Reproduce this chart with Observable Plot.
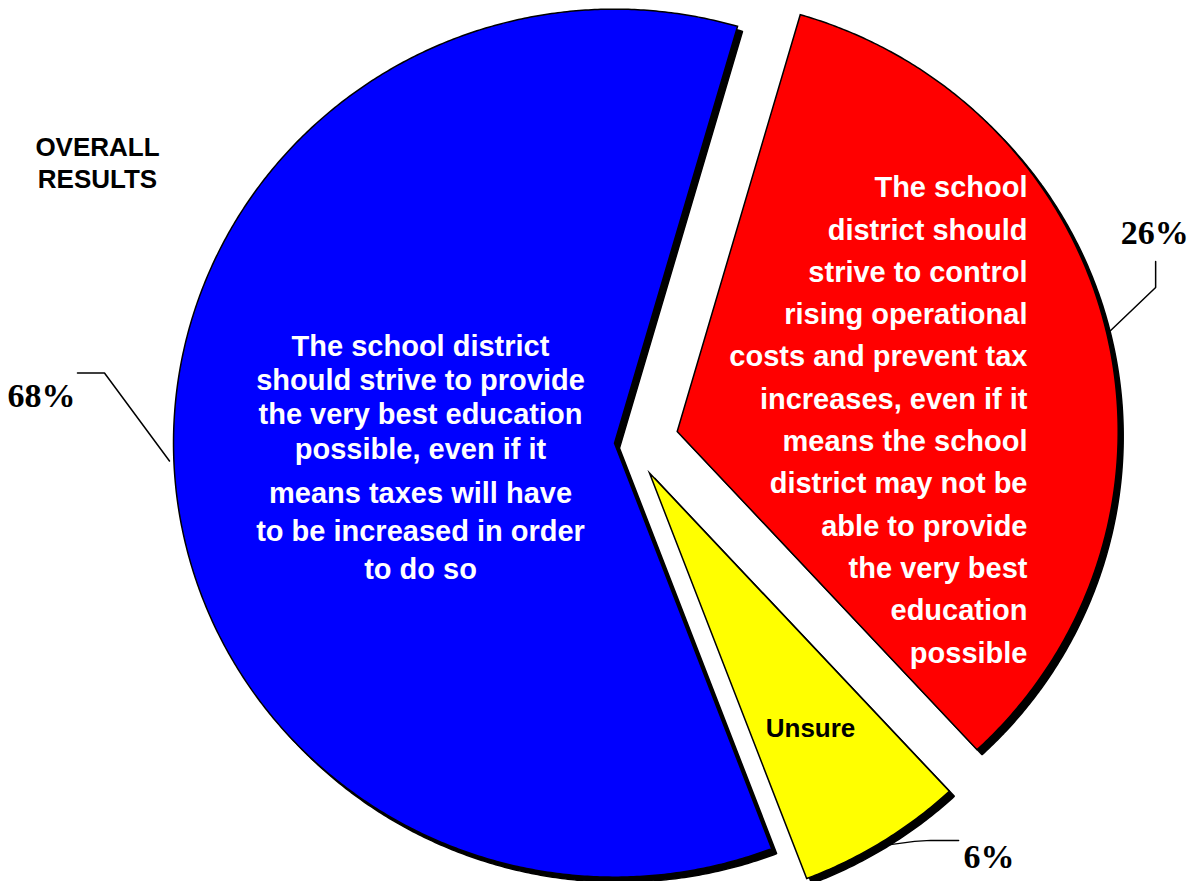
<!DOCTYPE html>
<html><head><meta charset="utf-8">
<script src="https://cdn.jsdelivr.net/npm/d3@7"></script>
<script src="https://cdn.jsdelivr.net/npm/@observablehq/plot@0.6"></script>
<style>html,body{margin:0;padding:0;background:#fff;} #chart svg{display:block}</style>
</head><body><div id="chart"></div>
<script>
// ---------------- data ----------------
const categories = ["Control costs / prevent tax increases", "Unsure", "Provide the very best education"];
const reportedPercent = [26, 6, 68];          // printed percentage labels
const drawnShare = [33.6, 6.1, 60.3];         // slice sizes as drawn in the picture
const sliceLabels = [
  "The school\ndistrict should\nstrive to control\nrising operational\ncosts and prevent tax\nincreases, even if it\nmeans the school\ndistrict may not be\nable to provide\nthe very best\neducation\npossible",
  "Unsure",
  "The school district\nshould strive to provide\nthe very best education\npossible, even if it\nmeans taxes will have\nto be increased in order\nto do so"
];
const titleLines = ["OVERALL", "RESULTS"];

// ---------------- layout / style ----------------
const W = 1191, H = 881;
const CX = 630, CY = 442, RX = 441, RY = 434;   // pie centre and radii in pixels
const START_DEG = 16.2;
const sliceFill = ["#ff0000", "#ffff00", "#0000ff"];
const explodePx = [48, 36, 16];
const shadowOffset = 5;
const sans = "'Liberation Sans', Arial, Helvetica, sans-serif";
const serif = "'Liberation Serif', 'Times New Roman', Times, serif";
const ux = px => (px - CX) / RX;
const uy = py => (CY - py) / RY;

// leader line bends, pixel offsets from the attachment point on the arc
const leaderPx = [
  [[0, 0], [45, -43], [45, -69]],
  [[0, 0], [30, -4], [46, -5], [74, -5]],
  [[0, 0], [-65, -88], [-92, -88]]
];
// percent label offset (px) from leader end + anchor
const pctLabelPx = [[-1, -17, "middle"], [5, 28, "start"], [-2, 34, "end"]];

// ---------------- geometry via d3.pie ----------------
const rad = Math.PI / 180;
const slices = categories.map((c, i) => ({category: c, share: drawnShare[i], pct: reportedPercent[i], label: sliceLabels[i]}));
const arcs = d3.pie().sort(null).value(d => d.share)
  .startAngle(START_DEG * rad).endAngle(START_DEG * rad + 2 * Math.PI)(slices);

const wedges = [];
const leaders = [];
const pctTexts = [];
arcs.forEach((a, i) => {
  const mid = (a.startAngle + a.endAngle) / 2;
  const ox = explodePx[i] * Math.sin(mid) / RX, oy = explodePx[i] * Math.cos(mid) / RY;
  const pts = [{x: ox, y: oy}];
  const n = Math.ceil((a.endAngle - a.startAngle) / (0.4 * rad));
  for (let k = 0; k <= n; k++) {
    const t = a.startAngle + (a.endAngle - a.startAngle) * k / n;
    pts.push({x: ox + Math.sin(t), y: oy + Math.cos(t)});
  }
  wedges.push({category: a.data.category, fill: sliceFill[i], pts});
  const ax = ox + Math.sin(mid) * 1.01, ay = oy + Math.cos(mid) * 1.01;
  const lp = leaderPx[i].map(([dx, dy]) => ({category: a.data.category, x: ax + dx / RX, y: ay - dy / RY}));
  leaders.push(...lp);
  const end = lp[lp.length - 1];
  const [tx, ty, anchor] = pctLabelPx[i];
  pctTexts.push({x: end.x + tx / RX, y: end.y - ty / RY, text: a.data.pct + "%", anchor});
});

const blueLines = sliceLabels[2].split("\n");
const marks = [];
wedges.forEach(w => marks.push(Plot.line(w.pts, {x: "x", y: "y", fill: "black", stroke: "black", strokeWidth: 1.5,
  curve: "linear-closed", strokeLinejoin: "miter", dx: shadowOffset, dy: shadowOffset})));
wedges.forEach(w => marks.push(Plot.line(w.pts, {x: "x", y: "y", fill: w.fill, stroke: "black", strokeWidth: 1.5,
  curve: "linear-closed", strokeLinejoin: "miter", strokeMiterlimit: 10})));
marks.push(Plot.line(leaders, {x: "x", y: "y", z: "category", stroke: "black", strokeWidth: 1.5, strokeLinejoin: "miter"}));
pctTexts.forEach(t => marks.push(Plot.text([t], {x: "x", y: "y", text: "text", textAnchor: t.anchor, lineAnchor: "bottom",
  fontFamily: serif, fontWeight: "bold", fontSize: 34, fill: "black"})));

// slice labels
marks.push(Plot.text([sliceLabels[0]], {x: () => ux(1027), y: () => uy(662), text: d => d, textAnchor: "end", lineAnchor: "bottom",
  lineHeight: 42.3 / 29, fontFamily: sans, fontWeight: "bold", fontSize: 29, fill: "white"}));
marks.push(Plot.text([sliceLabels[1]], {x: () => ux(810), y: () => uy(736), text: d => d, textAnchor: "middle", lineAnchor: "bottom",
  fontFamily: sans, fontWeight: "bold", fontSize: 26, fill: "black"}));
marks.push(Plot.text([blueLines.slice(0, 4).join("\n")], {x: () => ux(420), y: () => uy(458), text: d => d, textAnchor: "middle", lineAnchor: "bottom",
  lineHeight: 34.3 / 29, fontFamily: sans, fontWeight: "bold", fontSize: 29, fill: "white"}));
marks.push(Plot.text([blueLines.slice(4).join("\n")], {x: () => ux(420), y: () => uy(578), text: d => d, textAnchor: "middle", lineAnchor: "bottom",
  lineHeight: 38 / 29, fontFamily: sans, fontWeight: "bold", fontSize: 29, fill: "white"}));
marks.push(Plot.text([titleLines.join("\n")], {x: () => ux(97), y: () => uy(187), text: d => d, textAnchor: "middle", lineAnchor: "bottom",
  lineHeight: 32 / 26, fontFamily: sans, fontWeight: "bold", fontSize: 26, fill: "black"}));

const chart = Plot.plot({
  width: W, height: H, margin: 0,
  x: {domain: [ux(0), ux(W)], range: [0, W], axis: null},
  y: {domain: [uy(H), uy(0)], range: [H, 0], axis: null},
  style: {background: "white", overflow: "visible"},
  marks
});
document.getElementById("chart").appendChild(chart);
</script>
</body></html>
